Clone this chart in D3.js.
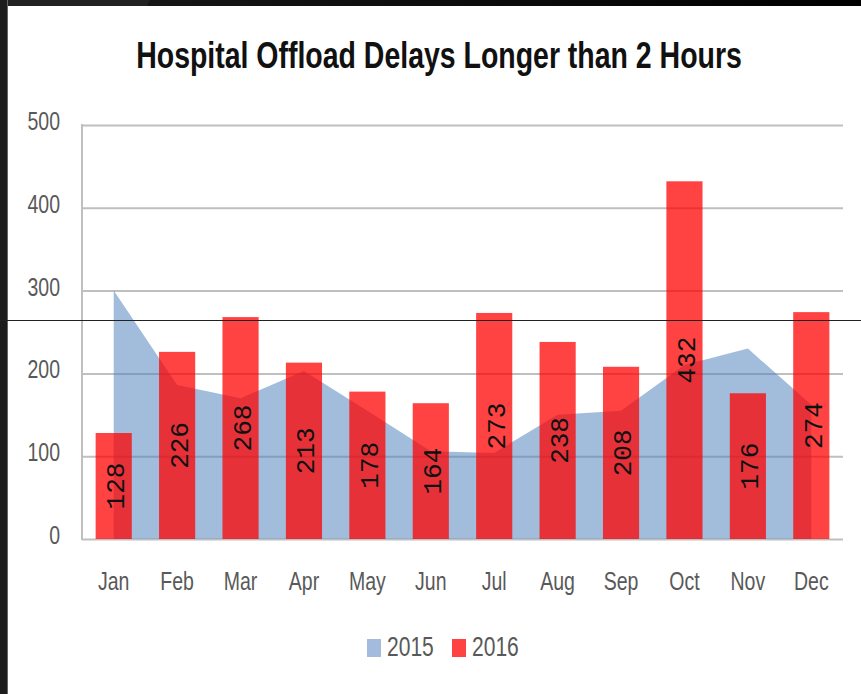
<!DOCTYPE html>
<html>
<head>
<meta charset="utf-8">
<script src="https://cdn.jsdelivr.net/npm/d3@7"></script>
<style>
  body { margin: 0; background: #fff; }
  svg { display: block; }
</style>
</head>
<body>
<div id="chart"></div>
<script>
// chart data
const months = ['Jan','Feb','Mar','Apr','May','Jun','Jul','Aug','Sep','Oct','Nov','Dec'];
const delays2015 = [300, 186, 170, 203, 155, 106, 104, 150, 155, 210, 230, 162];
const delays2016 = [128, 226, 268, 213, 178, 164, 273, 238, 208, 432, 176, 274];
const yTicks = [0, 100, 200, 300, 400, 500];
const seriesNames = ['2015', '2016'];

var width = 861
var height = 694
var plotLeft = 82, plotRight = 843, plotTop = 125, plotBottom = 539
var sx = 0.78   // text is squeezed sideways in the picture

var svg = d3.select('#chart')
  .append('svg')
    .attr('width', width)
    .attr('height', height)

svg.append('rect').attr('width', width).attr('height', height).attr('fill', '#fff')

var x = d3.scaleBand()
  .domain(months)
  .range([plotLeft, plotRight])
  .paddingInner(0.43)
  .paddingOuter(0.215)

var y = d3.scaleLinear()
  .domain([0, 500])
  .range([plotBottom, plotTop])

var cx = function(m) { return x(m) + x.bandwidth() / 2; }

// gridlines
var grid = svg.append('g')
  .attr('transform', 'translate(' + plotLeft + ',0)')
  .call(d3.axisLeft(y).tickValues(yTicks).tickSize(-(plotRight - plotLeft)).tickFormat(''))
grid.select('.domain').remove()
grid.selectAll('line').attr('stroke', '#bfbfbf').attr('stroke-width', 2)

// left axis line
svg.append('line')
  .attr('x1', plotLeft).attr('x2', plotLeft)
  .attr('y1', y(500) - 1).attr('y2', y(0) + 1)
  .attr('stroke', '#bfbfbf').attr('stroke-width', 2)

// 2015 area
var area = d3.area()
  .x(function(d, i) { return cx(months[i]); })
  .y0(y(0))
  .y1(function(d) { return y(d); })

svg.append('path')
  .datum(delays2015)
  .attr('d', area)
  .attr('fill', '#4f81bd')
  .attr('fill-opacity', 0.53)

// 2016 bars
svg.selectAll('.bar')
  .data(delays2016)
  .enter().append('rect')
    .attr('class', 'bar')
    .attr('x', function(d, i) { return x(months[i]); })
    .attr('width', x.bandwidth())
    .attr('y', function(d) { return y(d); })
    .attr('height', function(d) { return y(0) - y(d); })
    .attr('fill', '#ff0000')
    .attr('fill-opacity', 0.74)

// value labels inside bars
svg.selectAll('.val')
  .data(delays2016)
  .enter().append('text')
    .attr('class', 'val')
    .attr('transform', function(d, i) {
      return 'translate(' + (cx(months[i]) + 1) + ',' + (y(d) + y(0)) / 2 + ') rotate(-90)';
    })
    .attr('text-anchor', 'middle')
    .attr('dy', '0.36em')
    .style('font-family', '"Liberation Mono", monospace')
    .style('font-size', '26px')
    .attr('fill', '#111')
    .text(function(d) { return d; })

// y tick labels
svg.selectAll('.ytick')
  .data(yTicks)
  .enter().append('text')
    .attr('class', 'ytick')
    .attr('transform', function(d) { return 'translate(60,' + y(d) + ') scale(' + sx + ',1)'; })
    .attr('text-anchor', 'end')
    .attr('dy', '0.2em')
    .style('font-family', '"Liberation Sans", Arial, sans-serif')
    .style('font-size', '25px')
    .attr('fill', '#595959')
    .text(function(d) { return d; })

// month labels
svg.selectAll('.xtick')
  .data(months)
  .enter().append('text')
    .attr('class', 'xtick')
    .attr('transform', function(d) { return 'translate(' + cx(d) + ',590) scale(' + sx + ',1)'; })
    .attr('text-anchor', 'middle')
    .style('font-family', '"Liberation Sans", Arial, sans-serif')
    .style('font-size', '25px')
    .attr('fill', '#595959')
    .text(function(d) { return d; })

// title
svg.append('text')
  .attr('transform', 'translate(439,68) scale(' + sx + ',1)')
  .attr('text-anchor', 'middle')
  .style('font-family', '"Liberation Sans", Arial, sans-serif')
  .style('font-size', '36.5px')
  .style('font-weight', 'bold')
  .attr('fill', '#111')
  .text('Hospital Offload Delays Longer than 2 Hours')

// legend
var legend = svg.append('g')
var legendX = [367, 452]
var legendFill = ['#a3bcdd', '#ff4242']
seriesNames.forEach(function(name, i) {
  legend.append('rect')
    .attr('x', legendX[i]).attr('y', 639)
    .attr('width', 14).attr('height', 18)
    .attr('fill', legendFill[i])
  legend.append('text')
    .attr('transform', 'translate(' + (legendX[i] + 20) + ',656) scale(' + sx + ',1)')
    .style('font-family', '"Liberation Sans", Arial, sans-serif')
    .style('font-size', '27px')
    .attr('fill', '#595959')
    .text(name)
})

// dark frame on top and left edge
var topGrad = svg.append('defs').append('linearGradient').attr('id', 'topg')
topGrad.append('stop').attr('offset', '0%').attr('stop-color', '#1a1a1a')
topGrad.append('stop').attr('offset', '100%').attr('stop-color', '#000')
svg.append('rect').attr('x', 0).attr('y', 0).attr('width', width).attr('height', 6).attr('fill', 'url(#topg)')
svg.append('path').attr('d', 'M0,0H150L147,6H0Z').attr('fill', '#222')
svg.append('rect').attr('x', 0).attr('y', 0).attr('width', 7).attr('height', height).attr('fill', '#1c1c1c')
svg.append('rect').attr('x', 7).attr('y', 0).attr('width', 1).attr('height', height).attr('fill', '#666')

// thin line across the picture
svg.append('line')
  .attr('x1', 0).attr('x2', width)
  .attr('y1', 320.5).attr('y2', 320.5)
  .attr('stroke', '#222').attr('stroke-width', 1)
</script>
</body>
</html>
